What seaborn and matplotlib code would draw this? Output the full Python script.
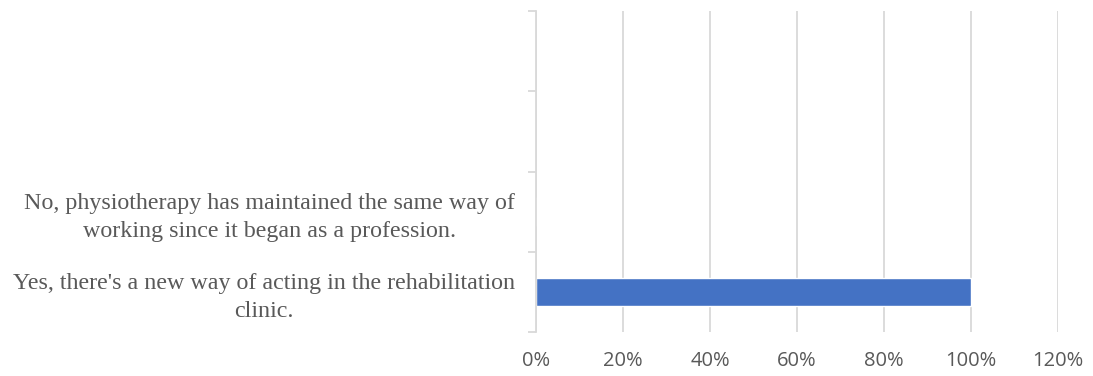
import matplotlib
matplotlib.use("Agg")
import matplotlib.pyplot as plt
import seaborn as sns
import pandas as pd
import numpy as np
from matplotlib.ticker import FixedLocator, FuncFormatter

# Survey answers (top to bottom); the two top slots are unlabeled
categories = [
    "",
    " ",
    "No, physiotherapy has maintained the same way of\nworking since it began as a profession.",
    "Yes, there's a new way of acting in the rehabilitation\nclinic.",
]
percentages = [np.nan, np.nan, 0, 100]
x_ticks = [0, 20, 40, 60, 80, 100, 120]

df = pd.DataFrame({"answer": categories, "pct": percentages})

sns.set_theme(style="white")
plt.rcParams["font.family"] = ["Liberation Serif", "DejaVu Serif"]

fig = plt.figure(figsize=(10.93, 3.76), dpi=100)
ax = fig.add_axes([0.4904, 0.117, 0.4776, 0.8537])

sns.barplot(data=df, x="pct", y="answer", order=categories, color="#4472C4",
            width=0.355, orient="h", ax=ax, saturation=1)

grid_c = "#d9d9d9"
text_c = "#595959"

ax.set_xlim(0, 120)
ax.set_ylim(3.5, -0.5)
ax.xaxis.set_major_locator(FixedLocator(x_ticks))
ax.xaxis.set_major_formatter(FuncFormatter(lambda v, p: f"{v:.0f}%"))
ax.grid(axis="x", color=grid_c, linewidth=1.3)
ax.grid(axis="y", visible=False)
ax.set_axisbelow(True)

for lbl in ax.get_xticklabels():
    lbl.set_fontfamily(["Open Sans", "DejaVu Sans"])
ax.tick_params(axis="x", length=0, pad=14, labelsize=14.5, labelcolor=text_c)

# category boundaries get tick marks, labels sit at category centers
ax.yaxis.set_major_locator(FixedLocator(np.arange(-0.5, 4.0, 1.0)))
ax.yaxis.set_major_formatter(FuncFormatter(lambda v, p: ""))
ax.yaxis.set_minor_locator(FixedLocator(np.arange(0, 4)))
ax.set_yticks(np.arange(0, 4), labels=categories, minor=True)
ax.tick_params(axis="y", which="major", length=6, width=1.3, color=grid_c, left=True)
ax.tick_params(axis="y", which="minor", length=0, pad=15, labelsize=17.3, labelcolor=text_c)
for lbl in ax.get_yticklabels(minor=True):
    lbl.set_multialignment("center")
    lbl.set_linespacing(1.4)

ax.set_xlabel("")
ax.set_ylabel("")
for side in ["top", "right", "bottom"]:
    ax.spines[side].set_visible(False)
ax.spines["left"].set_color(grid_c)
ax.spines["left"].set_linewidth(1.3)

fig.savefig("out.png", dpi=100)
